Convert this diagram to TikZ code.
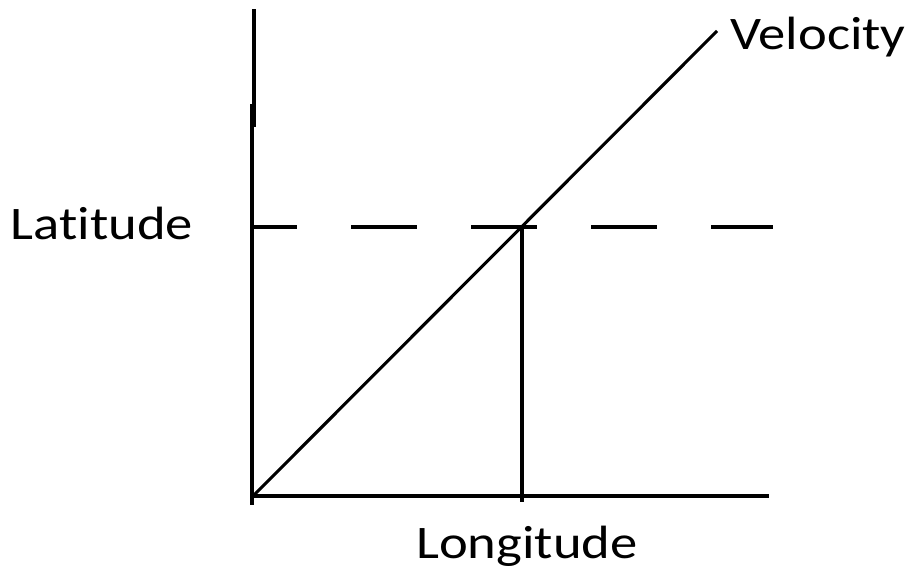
\documentclass[tikz,border=0pt]{standalone}
\usepackage{fontspec}
\setmainfont{Carlito}[Ligatures=NoCommon]
\usepackage{graphicx}
\usepackage{tikz}
\usetikzlibrary{positioning}
\newcommand{\widetext}[1]{\scalebox{1.17}[1]{#1}}

\begin{document}
\begin{tikzpicture}[
  x=0.75pt, y=-0.75pt,
  axis/.style={line width=2.3pt},
  guide/.style={line width=2.3pt, dash pattern=on 49.5pt off 40.5pt, dash phase=16.5pt},
  lbl/.style={inner sep=0pt, anchor=base, font=\fontsize{35}{40}\selectfont},
]
\useasboundingbox (0,0) rectangle (910,571);
% axes
\coordinate (o) at (253,496);
\coordinate (ytop) at (254,9);
\coordinate (yjoin) at (254,127);
\coordinate (ylow) at (252,104);
\coordinate (ybot) at (252,505);
\coordinate (xend) at (769,496);
\draw[axis] (ytop) -- (yjoin);
\draw[axis] (ylow) -- (ybot);
\draw[axis] (o) -- (xend);
% velocity line and its reading
\coordinate (vend) at (717,31);
\coordinate (p) at (522,227);
\coordinate (foot) at (522,502);
\coordinate (lat0) at (253,227);
\coordinate (lat1) at (773,227);
\draw[axis] (o) -- (vend);
\draw[guide] (lat0) -- (lat1);
\draw[axis] (p) -- (foot);
% labels
\node[lbl] (vel) at (818,49) {\widetext{Velocity}};
\node[lbl] (lat) at (102,239) {\widetext{Latitude}};
\node[lbl] (lon) at (527,558) {\widetext{Longitude}};
\end{tikzpicture}
\end{document}
